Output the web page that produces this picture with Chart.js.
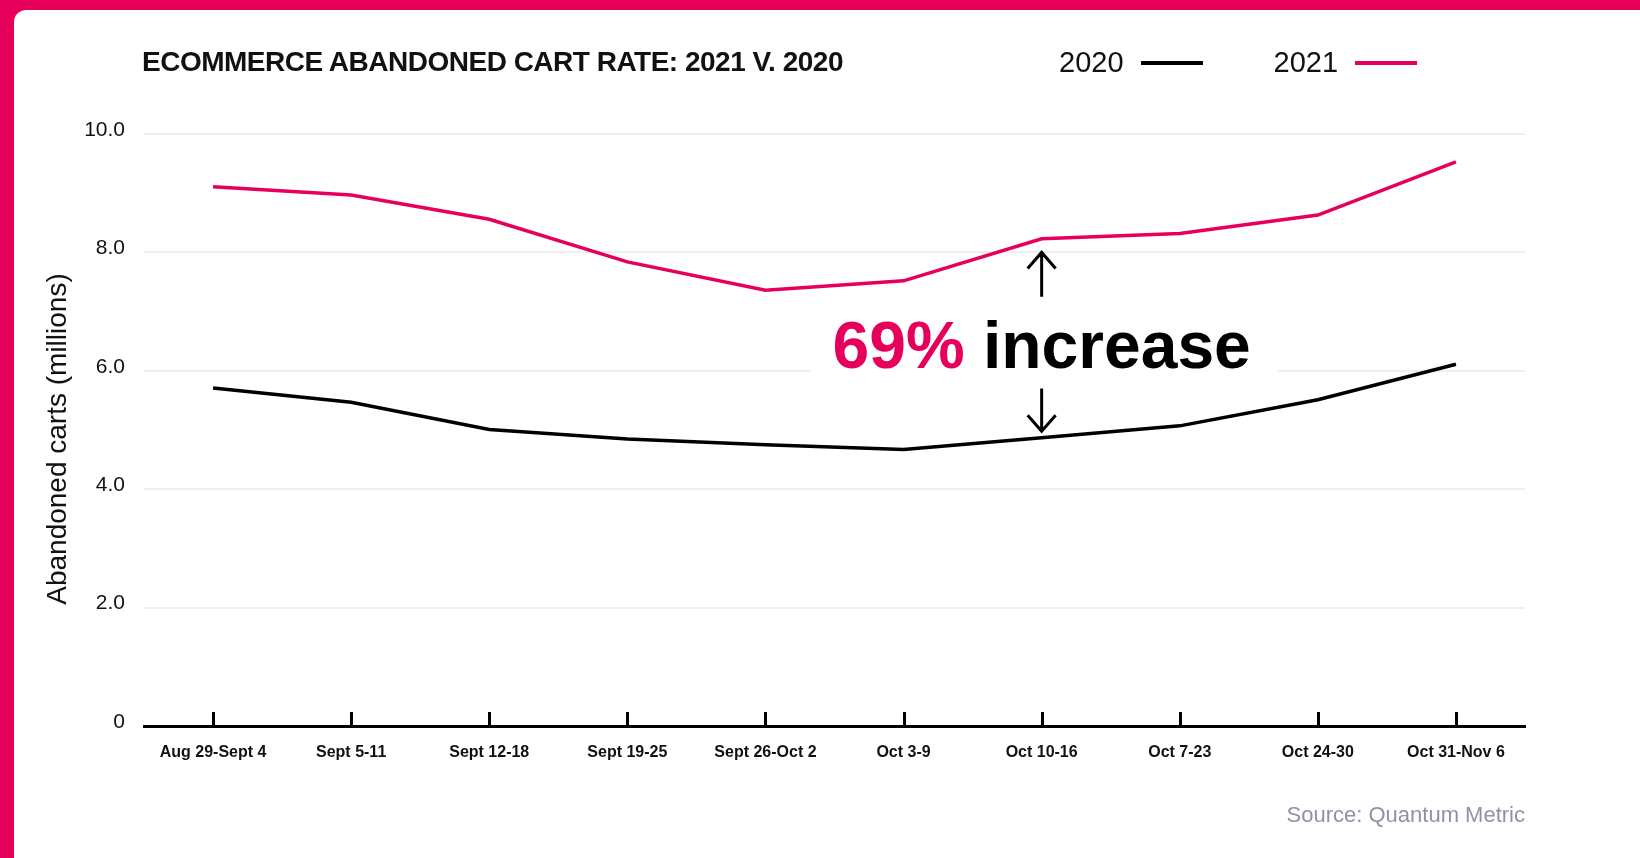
<!DOCTYPE html>
<html>
<head>
<meta charset="utf-8">
<title>Ecommerce abandoned cart rate</title>
<script src="https://cdn.jsdelivr.net/npm/chart.js@4.4.1/dist/chart.umd.min.js"></script>
<style>
  html, body { margin: 0; padding: 0; }
  body {
    width: 1640px; height: 858px; overflow: hidden; position: relative;
    background: #e6005c;
    font-family: "Liberation Sans", Arial, sans-serif;
    color: #111;
  }
  .panel {
    position: absolute; left: 14px; top: 10px; right: 0; bottom: 0;
    background: #fff; border-top-left-radius: 12px;
  }
  #chart { position: absolute; left: 0; top: 0; }
  .title {
    position: absolute; left: 142px; top: 48px;
    font-size: 28px; line-height: 28px; font-weight: bold; letter-spacing: -0.5px;
    white-space: nowrap;
  }
  .legend {
    position: absolute; left: 1059px; top: 48px;
    display: flex; align-items: center;
    font-size: 29px; line-height: 29px;
  }
  .legend .item { display: flex; align-items: center; margin-right: 71px; }
  .legend .swatch { width: 62px; height: 4px; margin-left: 17px; }
  .source {
    position: absolute; right: 115px; top: 804px;
    font-size: 22px; line-height: 22px; color: #8d93a6;
  }
</style>
</head>
<body>
<div class="panel"></div>
<canvas id="chart" width="1640" height="858"></canvas>
<div class="title">ECOMMERCE ABANDONED CART RATE: 2021 V. 2020</div>
<div class="legend" id="legend"></div>
<div class="source">Source: Quantum Metric</div>

<script>
const weeks = ["Aug 29-Sept 4", "Sept 5-11", "Sept 12-18", "Sept 19-25", "Sept 26-Oct 2",
  "Oct 3-9", "Oct 10-16", "Oct 7-23", "Oct 24-30", "Oct 31-Nov 6"];

// abandoned carts, millions
const carts2020 = [5.71, 5.47, 5.01, 4.85, 4.75, 4.67, 4.87, 5.07, 5.51, 6.11];
const carts2021 = [9.11, 8.97, 8.56, 7.84, 7.36, 7.52, 8.23, 8.32, 8.63, 9.53];

const seriesNames = ["2020", "2021"];
const seriesColors = ["#000000", "#e6005c"];
const yTickLabels = ["0", "2.0", "4.0", "6.0", "8.0", "10.0"];
const yTitle = "Abandoned carts (millions)";

// callout between the two lines, pinned to the Oct 10-16 week
const noteWeek = 6;
const noteBaseline = 6.05;
const arrowUp = [7.25, 8.0];
const arrowDown = [5.7, 4.98];

const FONT = '"Liberation Sans", Arial, sans-serif';

// legend row
const legendEl = document.getElementById("legend");
seriesNames.forEach((name, i) => {
  legendEl.innerHTML += `<div class="item"><span>${name}</span>` +
    `<span class="swatch" style="background:${seriesColors[i]}"></span></div>`;
});

function drawArrow(ctx, x, y1, y2) {
  const dir = y2 < y1 ? 1 : -1;
  ctx.beginPath();
  ctx.moveTo(x, y1);
  ctx.lineTo(x, y2);
  ctx.moveTo(x - 14, y2 + dir * 16);
  ctx.lineTo(x, y2);
  ctx.lineTo(x + 14, y2 + dir * 16);
  ctx.stroke();
}

const increaseNote = {
  id: "increaseNote",
  beforeDatasetsDraw(chart) {
    const { ctx, scales: { x, y } } = chart;
    const cx = x.getPixelForValue(noteWeek);
    const base = y.getPixelForValue(noteBaseline);
    ctx.save();
    ctx.fillStyle = "#fff";
    ctx.fillRect(cx - 231, base - 72, 467, 90);
    ctx.restore();
  },
  afterDatasetsDraw(chart) {
    const { ctx, scales: { x, y } } = chart;
    ctx.save();

    // short upward tick marks on the x axis
    ctx.strokeStyle = "#000";
    ctx.lineWidth = 3;
    weeks.forEach((w, i) => {
      const px = Math.round(x.getPixelForValue(i)) + 0.5;
      ctx.beginPath();
      ctx.moveTo(px, y.bottom);
      ctx.lineTo(px, y.bottom - 14);
      ctx.stroke();
    });

    const cx = x.getPixelForValue(noteWeek);
    drawArrow(ctx, cx, y.getPixelForValue(arrowUp[0]), y.getPixelForValue(arrowUp[1]));
    drawArrow(ctx, cx, y.getPixelForValue(arrowDown[0]), y.getPixelForValue(arrowDown[1]));

    const pct = "69%";
    const rest = " increase";
    ctx.font = "bold 66px " + FONT;
    ctx.textBaseline = "alphabetic";
    ctx.textAlign = "left";
    const w1 = ctx.measureText(pct).width;
    const w2 = ctx.measureText(rest).width;
    const start = cx - (w1 + w2) / 2;
    const base = y.getPixelForValue(noteBaseline);
    ctx.fillStyle = seriesColors[1];
    ctx.fillText(pct, start, base);
    ctx.fillStyle = "#000";
    ctx.fillText(rest, start + w1, base);
    ctx.restore();
  },
  afterDraw(chart) {
    // y axis title, sat a little below the middle of the plot
    const { ctx, scales: { y } } = chart;
    ctx.save();
    ctx.translate(58.5, (y.top + y.bottom) / 2 + 9);
    ctx.rotate(-Math.PI / 2);
    ctx.font = "28px " + FONT;
    ctx.fillStyle = "#111";
    ctx.textAlign = "center";
    ctx.textBaseline = "middle";
    ctx.fillText(yTitle, 0, 0);
    ctx.restore();
  }
};

new Chart(document.getElementById("chart"), {
  type: "line",
  data: {
    labels: weeks,
    datasets: [
      { label: seriesNames[0], data: carts2020, borderColor: seriesColors[0], backgroundColor: seriesColors[0] },
      { label: seriesNames[1], data: carts2021, borderColor: seriesColors[1], backgroundColor: seriesColors[1] }
    ]
  },
  options: {
    responsive: false,
    animation: false,
    layout: { padding: { left: 14, right: 115, top: 134, bottom: 0 } },
    elements: {
      point: { radius: 0, hoverRadius: 0 },
      line: { tension: 0, borderWidth: 3.5, fill: false }
    },
    plugins: {
      legend: { display: false },
      tooltip: { enabled: false }
    },
    scales: {
      x: {
        offset: true,
        grid: { display: false, drawTicks: false },
        border: { display: true, color: "#000", width: 3 },
        ticks: {
          color: "#111",
          font: { family: FONT, size: 16, weight: "bold" },
          padding: 17,
          maxRotation: 0,
          autoSkip: false
        },
        afterFit(scale) { scale.height = 132; }
      },
      y: {
        min: 0,
        max: 10,
        grid: {
          color: ctx => ctx.tick && ctx.tick.value === 0 ? "rgba(0,0,0,0)" : "#efefef",
          lineWidth: 2,
          drawTicks: false
        },
        border: { display: false },
        ticks: {
          stepSize: 2,
          color: "#111",
          font: { family: FONT, size: 21 },
          padding: 19,
          labelOffset: -4,
          callback: (value, index) => yTickLabels[index]
        },
        afterFit(scale) { scale.width = 130; }
      }
    }
  },
  plugins: [increaseNote]
});
</script>
</body>
</html>
